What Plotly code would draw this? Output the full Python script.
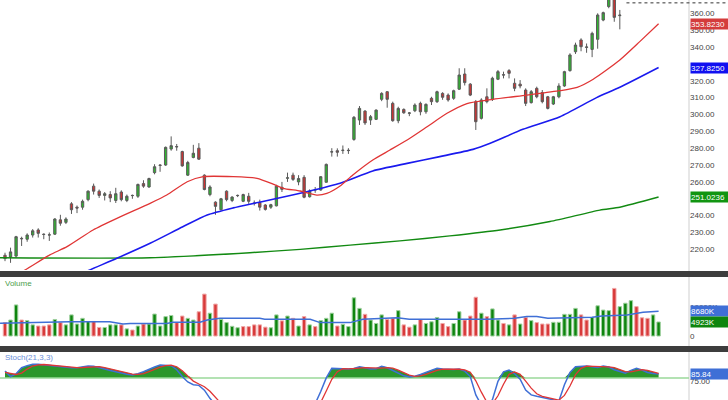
import numpy as np
import plotly.graph_objects as go

# ---------------- data ----------------
opens = [216.5, 215.5, 216, 226.5, 226, 228.5, 231.5, 229, 228.5, 229,
         237.5, 236, 247, 245, 245, 249.5, 257.5, 254.5, 252, 252.5,
         249, 254, 249, 252, 251.5, 259, 257, 265.5, 270, 270,
         279.5, 281, 278, 264, 274.5, 280, 264, 252.5, 248, 243.5,
         254.5, 249, 252, 248.5, 251.5, 247.5, 247.8, 246.3, 245, 245.8,
         256.8, 262.2, 264, 260, 262.7, 251.2, 255.2, 255.2, 259.8, 277.7,
         278.5, 278.6, 278.8, 285.2, 296.7, 302, 296.7, 297.1, 309, 313.5,
         306.6, 296.3, 303, 300.7, 302.2, 306.6, 301.6, 309.6, 307.6, 312.5,
         311.5, 309.6, 315, 324, 318, 307.6, 297.7, 310.5, 309, 320.9,
         323.6, 326, 318.5, 318, 314.5, 307, 315.5, 313, 310.5, 306.2,
         310.5, 316.9, 326, 337.2, 344.2, 339.8, 338.6, 344.6, 356, 364,
         370, 358.6, 370, 375, 381, 377, 374, 371, 376]
highs = [218, 221, 228, 227.5, 229.5, 232, 232.5, 229.5, 230, 238.5,
         240.5, 239, 248, 246, 249.5, 255, 259, 255.5, 254, 254.5,
         256.5, 255, 252.5, 252.5, 259, 261, 262.5, 270.5, 270.5, 281,
         287, 282.5, 278.5, 272.5, 282, 283, 264.5, 258, 248.5, 250.5,
         255, 251.5, 252.5, 253, 253.5, 249, 249.5, 246.8, 247, 258.3,
         260, 265.5, 265.5, 264, 264, 255.6, 257, 263.5, 270.9, 280,
         279.9, 281.6, 280, 299.1, 305, 302.6, 299.7, 303, 313.2, 313.8,
         307.6, 304.6, 303.6, 301.4, 306.6, 307.6, 306.6, 310.5, 314.1, 313.2,
         312.5, 314.7, 327.4, 327.4, 318.6, 308.6, 309.6, 315.5, 322.4, 326.4,
         325.4, 326.9, 321.4, 320.4, 315.5, 314.5, 316.5, 314.5, 311, 311,
         318.5, 325.9, 336.3, 342.6, 345.2, 342.1, 349.1, 360, 361, 370,
         371, 362, 376, 382, 383, 379, 376, 377, 379]
lows = [213, 212, 215, 222, 224.5, 227, 227, 226, 225, 228.5,
        234, 235, 241, 241.5, 243.5, 248.5, 252.5, 250.5, 249, 248,
        247.5, 248.5, 248, 250, 250.5, 256.5, 256.5, 264.5, 266, 269.5,
        278.5, 278.5, 269, 263.5, 274, 273, 255, 251.5, 240.5, 243,
        248.5, 248, 251, 248, 247, 246, 243, 243, 244, 245.5,
        254, 260, 260.6, 258, 250.3, 250.7, 253.5, 254.8, 259.6, 275,
        275, 276.6, 276.6, 284.4, 293.8, 293.8, 293.8, 296.7, 307.9, 304,
        295.7, 294.8, 300.4, 299, 301.4, 299.5, 300.4, 305.6, 306.8, 308.7,
        307.6, 308.7, 314.5, 317.2, 310.9, 290.8, 297, 306.6, 308, 320.4,
        321.4, 321.4, 313.8, 315.5, 305, 306.5, 309.6, 306.6, 303, 305.6,
        309.6, 316.4, 325.4, 335.9, 337.5, 336.6, 334, 339, 355.3, 363,
        355, 350.5, 369, 373, 374, 371, 369, 369.5, 373]
closes = [214.5, 218.5, 227.5, 226.3, 228.5, 231, 229.5, 228.8, 228.6, 238,
          235.5, 238, 243.5, 244.5, 248.5, 254.5, 254.5, 252, 253, 250.5,
          253, 249.5, 251.5, 251.9, 258.5, 257.5, 262, 269, 269.8, 280.5,
          281.5, 280.8, 269.5, 271.5, 277, 273.5, 255.5, 257, 245.5, 250,
          249.5, 251, 251.9, 252.5, 248.5, 247.2, 245, 243.7, 246.5, 257.5,
          255.6, 262.4, 261.5, 262, 250.9, 254.6, 255.4, 263.1, 270.4, 277.9,
          277.6, 278.8, 278.6, 298.3, 303.6, 295, 298.7, 302.6, 312.5, 309,
          296.3, 303.6, 301, 300.9, 305.6, 301.6, 306, 307.6, 313.5, 310.2,
          308.6, 314.1, 323.4, 318.9, 311.5, 295.7, 308.6, 307.6, 321.5, 325.4,
          323.4, 324.4, 315.5, 316.9, 306.6, 313.5, 310.5, 307.6, 303.6, 310.5,
          316.9, 325.4, 335.3, 341.2, 340.2, 340.0, 348.1, 359, 360.4, 369,
          357.6, 358.9, 375, 380, 376, 373, 371, 376, 378]

# volume in thousands, and bar colour as drawn (g = green, r = red)
volumes = [4700, 5600, 10900, 5600, 5400, 3900, 3500, 3500, 3900, 5800,
           4700, 3900, 7400, 4200, 6200, 5100, 5100, 3000, 3000, 3900,
           3900, 3900, 2500, 2100, 3500, 4200, 4200, 7700, 3500, 6800,
           7200, 4700, 7000, 6200, 5600, 8500, 14700, 8000, 11200, 5800,
           4700, 3400, 2900, 3300, 3300, 3900, 3900, 3100, 2900, 7400,
           5300, 7000, 6200, 3500, 6800, 3900, 3300, 5400, 6200, 8000,
           3500, 4100, 3300, 13400, 9700, 7600, 5600, 4400, 7400, 5800,
           6200, 8900, 3900, 3100, 3900, 5800, 4400, 5000, 6500, 4400,
           3300, 4400, 8500, 5600, 7000, 13600, 8000, 6800, 9500, 5600,
           4400, 3900, 7400, 4200, 6500, 5400, 4700, 4200, 4200, 4800,
           4800, 7600, 7600, 9700, 7400, 5600, 6500, 10600, 9100, 8900,
           16700, 10300, 11500, 12400, 10300, 6400, 6200, 7400, 4923]
vol_dir = (list("rggrggrrrg") + list("rggggg" "rrgg") + list("grgrgrgggg") +
           list("grrggrrgrg") + list("gggrrrrrgg") + list("rgrgrgrggg") +
           list("rggggrgggr") + list("rgrrgrgggr") + list("rggrrrgrgg") +
           list("rgrgrgrrrg") + list("ggggrrgggg") + list("rgggrrrgg"))

# moving averages read at sampled candle positions (index, value)
ma20_i = [-0.9, 2.7, 8.1, 11.2, 15.9, 20.2, 26.2, 29.2, 32.9, 35.8, 41.2, 45.5,
          48.4, 50.2, 53.3, 56.3, 58.1, 60.5, 62.8, 66.4, 69.5, 73.1, 76.2, 79.8,
          83.4, 88.1, 94.2, 100.2, 103.3, 106.2, 111, 114.6, 118]
ma20_v = [200.5, 206, 216.7, 221.6, 231.5, 238.4, 247.3, 252.2, 260.1, 263.1, 263.1, 262.1,
          258.7, 256.2, 254.6, 252.2, 253.2, 257.6, 264.1, 273, 278.9, 285.9, 292.7, 300.7,
          306.5, 309, 311.5, 314.1, 316.1, 320.9, 332.3, 343.2, 353.823]
ma50_i = [12.5, 14.4, 20.2, 26.2, 32.1, 36.5, 41.2, 44.2, 48.4, 54.5, 60.5, 66.4,
          72.6, 78.5, 84.5, 87.6, 93.5, 100.2, 106.8, 111, 118]
ma50_v = [203.5, 206.5, 214.7, 223.6, 233.4, 240.4, 244.6, 246.8, 249.7, 254.2, 259.2, 266.5,
          271.0, 275, 279.3, 282.9, 291.2, 298.7, 310, 316.1, 327.825]
ma200_i = [-0.9, 26.2, 44.2, 53.3, 62.3, 71.3, 80.3, 89.4, 98.4, 107.4, 111, 118]
ma200_v = [215, 215, 218, 220, 222.5, 225, 228, 231.5, 236.5, 243.3, 245, 251.0236]

vma_i = [-0.9, 6.9, 11.7, 18.9, 21.3, 22.6, 29.2, 30.3, 35.2, 36.5, 38.8, 46, 46.9,
         55.1, 56.9, 62.3, 64.6, 70.8, 73, 87, 92, 94.2, 96, 98, 102, 106, 107.8,
         112.3, 115.2, 118]
vma_v = [4500, 4800, 5000, 5000, 4200, 4400, 4400, 4800, 4800, 5600, 6200, 6200, 5900,
         5900, 4700, 4700, 5900, 6400, 5900, 5900, 6200, 6800, 6800, 6200, 6400, 6600, 7000,
         7400, 8300, 8680]

stoch_k = [90, 82, 86, 95, 98, 100, 100, 99, 98, 97,
           96, 95.5, 95, 95, 96, 97.5, 97, 95.5, 93, 91,
           89, 87, 85.5, 84.3, 86, 89, 93, 96, 99, 99,
           98, 92, 82, 74, 70, 69, 62, 50, 38, 30,
           24, 20, 18, 16, 15, 14, 12, 10, 14, 24,
           28, 32, 36, 34, 26, 30, 42, 60, 80, 94,
           93.5, 93, 93, 94, 96.5, 95, 93, 93.5, 97, 95,
           91, 88, 83, 81.5, 82.5, 85, 88, 91.5, 94, 93,
           92.5, 92.5, 93, 90, 82, 55, 40, 38, 48, 75,
           89, 91.6, 86, 78, 62, 55, 53, 51, 49, 47,
           46, 70, 88, 96.5, 97.5, 97.5, 96.5, 95.5, 97.5, 96,
           92, 89, 86.8, 91, 94, 91.6, 88, 86.5, 85.84]
stoch_d = [88, 86, 85, 87, 93, 97.5, 99.3, 99.7, 99, 98,
           97, 96, 95.5, 95.2, 95.3, 96, 96.8, 96.7, 95.2, 93.2,
           91, 89, 87.2, 85.6, 85.3, 86.4, 89.3, 92.7, 96, 98,
           98.7, 96.3, 90.7, 82.7, 75.3, 71, 67, 60.3, 50, 39.3,
           30.7, 24.7, 20.7, 18, 16.3, 15, 13.7, 12, 12, 16,
           22, 28, 32, 34, 32, 30, 32.7, 44, 60.7, 78,
           89.2, 93.5, 93.2, 93.3, 94.5, 95.2, 94.8, 93.8, 94.5, 95.2,
           94.3, 91.3, 87.3, 84.2, 82.3, 83, 85.2, 88.2, 91.2, 92.8,
           93.2, 92.7, 92.7, 91.8, 88.3, 75.7, 59, 44.3, 42, 53.7,
           70.7, 85.2, 88.9, 85.2, 75.3, 65, 56.7, 53, 51, 49,
           47.3, 54.3, 68, 84.8, 94, 97.2, 97.2, 96.5, 96.5, 96.3,
           95.2, 92.3, 89.3, 88.9, 90.6, 92.2, 91.2, 88.7, 86.8]
stoch_level = 80

# ticks fully hidden behind the value boxes (250, 330) are not shown in the reference
price_ticks = [220, 230, 240, 260, 270, 280, 290, 300, 310, 320, 340, 350, 360]
last_line_price = 366.2

# ---------------- layout geometry ----------------
W, H = 728, 400
PLOT_W = 689
X_RANGE = [-0.903, 123.49]
MAIN_DOM = [1 - 270 / H, 1.0]
VOL_DOM = [1 - 346 / H, 1 - 277 / H]
STO_DOM = [0.0, 1 - 352 / H]
MAIN_RANGE = [207.75, 367.9]
VOL_RANGE = [-3509, 20702]
STO_RANGE = [47.5, 118.1]

FONT = "Liberation Sans, Arial, sans-serif"
n = len(closes)
idx = list(range(n))

fig = go.Figure()

fig.add_trace(go.Candlestick(
    x=idx, open=opens, high=highs, low=lows, close=closes,
    increasing=dict(fillcolor="#2fb52f", line=dict(color="#5a5a5a", width=1)),
    decreasing=dict(fillcolor="#cc3333", line=dict(color="#5a5a5a", width=1)),
    xaxis="x", yaxis="y", hoverinfo="skip", showlegend=False))

for xs, ys, col, w in [(ma200_i, ma200_v, "#128a12", 1.4),
                       (ma50_i, ma50_v, "#1a1aee", 1.6),
                       (ma20_i, ma20_v, "#e03535", 1.3)]:
    fig.add_trace(go.Scatter(x=xs, y=ys, mode="lines",
                             line=dict(color=col, width=w, shape="spline", smoothing=0.6),
                             xaxis="x", yaxis="y", hoverinfo="skip", showlegend=False))

vcol = ["#0e850e" if d == "g" else "#d83a3a" for d in vol_dir]
vedge = ["#9fd09f" if d == "g" else "#f0a8a8" for d in vol_dir]
fig.add_trace(go.Bar(x=idx, y=volumes, width=0.62,
                     marker=dict(color=vcol, line=dict(color=vedge, width=1)),
                     xaxis="x2", yaxis="y2", hoverinfo="skip", showlegend=False))
fig.add_trace(go.Scatter(x=vma_i, y=vma_v, mode="lines",
                         line=dict(color="#3f6fd6", width=1.5),
                         xaxis="x2", yaxis="y2", hoverinfo="skip", showlegend=False))

# stochastic
fill_top = np.maximum(np.maximum(stoch_k, stoch_d), stoch_level)
fig.add_trace(go.Scatter(x=idx, y=[stoch_level] * n, mode="lines", line=dict(width=0),
                         xaxis="x3", yaxis="y3", hoverinfo="skip", showlegend=False))
fig.add_trace(go.Scatter(x=idx, y=fill_top, mode="lines", line=dict(width=0),
                         fill="tonexty", fillcolor="#2b962b",
                         xaxis="x3", yaxis="y3", hoverinfo="skip", showlegend=False))
fig.add_trace(go.Scatter(x=[X_RANGE[0], X_RANGE[1]], y=[stoch_level, stoch_level], mode="lines",
                         line=dict(color="#9ad89a", width=1.5),
                         xaxis="x3", yaxis="y3", hoverinfo="skip", showlegend=False))
fig.add_trace(go.Scatter(x=idx, y=stoch_k, mode="lines", line=dict(color="#3f6fd6", width=1.5),
                         xaxis="x3", yaxis="y3", hoverinfo="skip", showlegend=False))
fig.add_trace(go.Scatter(x=idx, y=stoch_d, mode="lines", line=dict(color="#e03535", width=1.3),
                         xaxis="x3", yaxis="y3", hoverinfo="skip", showlegend=False))

axis_common = dict(showgrid=False, zeroline=False, ticks="", side="right",
                   tickfont=dict(family=FONT, size=8, color="#444444"))
xcommon = dict(range=X_RANGE, showgrid=False, zeroline=False, showticklabels=False,
               ticks="", domain=[0, 1], fixedrange=True)

fig.update_layout(
    width=W, height=H, margin=dict(l=0, r=W - PLOT_W, t=0, b=0),
    paper_bgcolor="white", plot_bgcolor="white", boxgap=0.4,
    xaxis=dict(**xcommon, anchor="y", rangeslider=dict(visible=False)),
    xaxis2=dict(**xcommon, anchor="y2"),
    xaxis3=dict(**xcommon, anchor="y3"),
    yaxis=dict(**axis_common, domain=MAIN_DOM, range=MAIN_RANGE, anchor="x",
               tickvals=price_ticks, ticktext=[f"{v:.2f}" for v in price_ticks]),
    yaxis2=dict(**axis_common, domain=VOL_DOM, range=VOL_RANGE, anchor="x2",
                tickvals=[0, 10000], ticktext=["0", "10000K"]),
    yaxis3=dict(**axis_common, domain=STO_DOM, range=STO_RANGE, anchor="x3",
                tickvals=[50, 75], ticktext=["50.00", "75.00"]),
    showlegend=False,
)


def paper_y(v, dom, rng):
    return dom[0] + (v - rng[0]) / (rng[1] - rng[0]) * (dom[1] - dom[0])


shapes = []
# dark panel separators
for top, bot in [(271, 277), (346, 352)]:
    shapes.append(dict(type="rect", xref="paper", yref="paper", x0=-0.01, x1=W / PLOT_W + 0.01,
                       y0=1 - bot / H, y1=1 - top / H, fillcolor="#3d3d3d", line=dict(width=0),
                       layer="above"))
# vertical divider at axis
shapes.append(dict(type="line", xref="paper", yref="paper", x0=1, x1=1, y0=0, y1=1,
                   line=dict(color="#cfcfcf", width=1), layer="below"))
# dotted last-price line
yl = paper_y(last_line_price, MAIN_DOM, MAIN_RANGE)
shapes.append(dict(type="line", xref="paper", yref="paper",
                   x0=(n - 7 + 0.2 - X_RANGE[0]) / (X_RANGE[1] - X_RANGE[0]), x1=726 / PLOT_W,
                   y0=yl, y1=yl, line=dict(color="#333333", width=1, dash="dot")))
fig.update_layout(shapes=shapes)

ann = []


def box(text, yref, yval, bg):
    ann.append(dict(text=text, xref="paper", x=1, xanchor="left", xshift=1,
                    yref=yref, y=yval, yanchor="middle", showarrow=False,
                    font=dict(family=FONT, size=8, color="white"),
                    bgcolor=bg, borderpad=0, width=37, height=10, align="left"))


box(f"{ma20_v[-1]:.4f}", "y", ma20_v[-1], "#d43c3c")
box(f"{ma50_v[-1]:.4f}", "y", ma50_v[-1], "#1010f0")
box(f"{ma200_v[-1]:.4f}", "y", ma200_v[-1], "#119511")
box(f"{vma_v[-1]}K", "y2", vma_v[-1], "#3f6fd6")
box(f"{volumes[-1]}K", "y2", volumes[-1], "#0e850e")
box(f"{stoch_k[-1]:.2f}", "y3", stoch_k[-1], "#3f6fd6")

ann.append(dict(text="Volume", xref="paper", yref="paper", x=3 / PLOT_W, y=1 - 283 / H,
                xanchor="left", yanchor="middle", showarrow=False,
                font=dict(family=FONT, size=8, color="#4d9e4d")))
ann.append(dict(text="Stoch(21,3,3)", xref="paper", yref="paper", x=3 / PLOT_W, y=1 - 357 / H,
                xanchor="left", yanchor="middle", showarrow=False,
                font=dict(family=FONT, size=8, color="#6b8fd8")))
fig.update_layout(annotations=ann)

fig.write_html("out.html")
